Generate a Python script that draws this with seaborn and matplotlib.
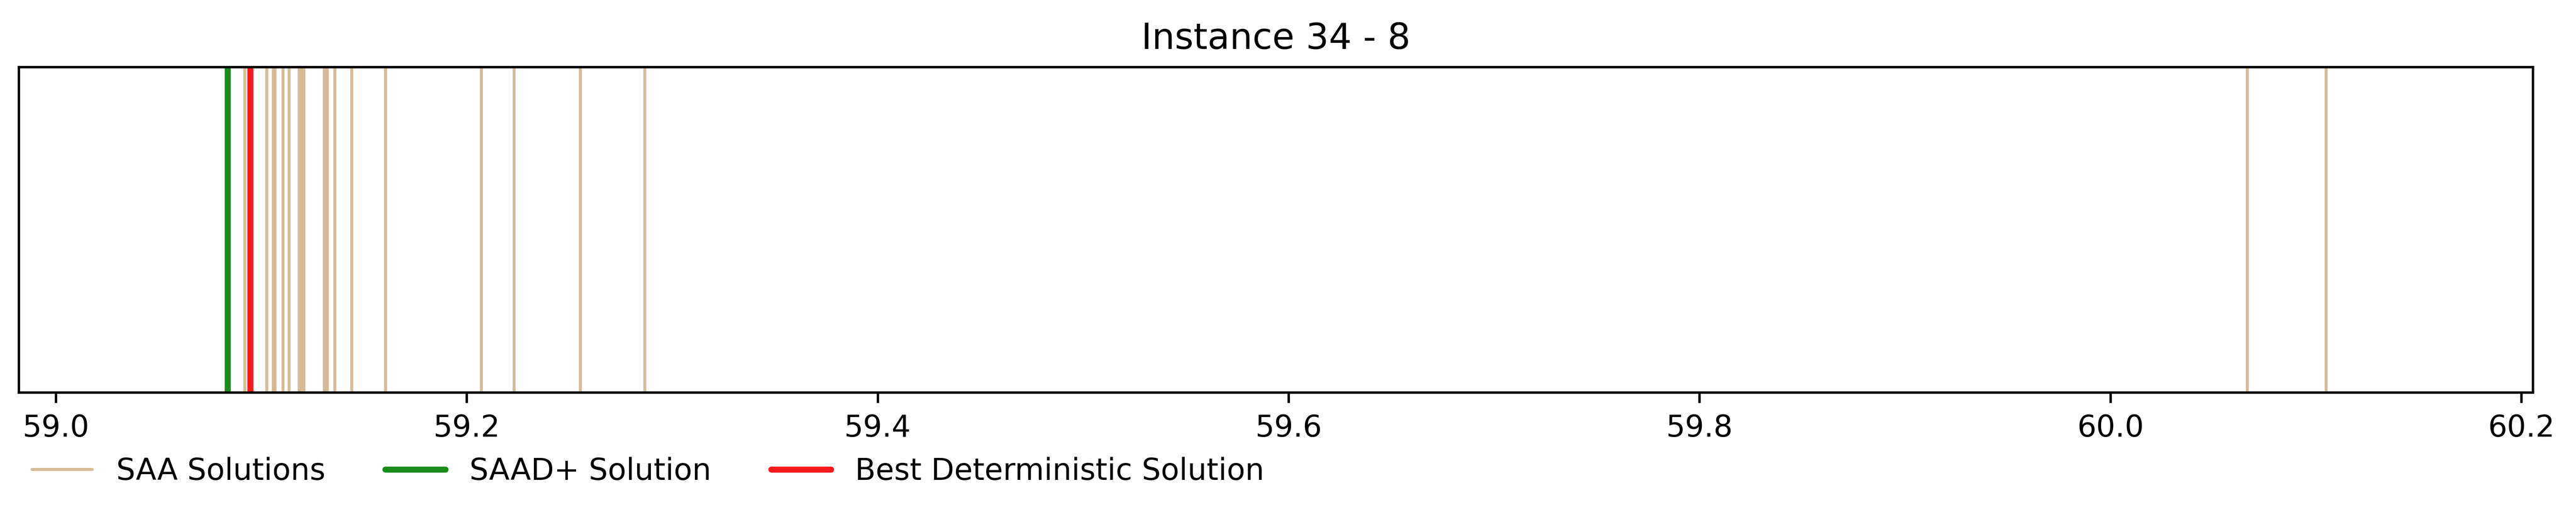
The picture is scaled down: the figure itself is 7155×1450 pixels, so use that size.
import numpy as np
import matplotlib
matplotlib.use('Agg')
import matplotlib.pyplot as plt
from matplotlib.lines import Line2D
import seaborn as sns

# Objective values
saa_solutions = [59.0920, 59.1027, 59.1058, 59.1067, 59.1105, 59.1135,
                 59.1184, 59.1196, 59.1208, 59.1308, 59.1322, 59.1358,
                 59.1441, 59.1606, 59.2072, 59.2231, 59.2553, 59.2867,
                 60.0667, 60.1051]
saad_plus_solution = [59.0836]
best_deterministic = [59.0946]
title = 'Instance 34 - 8'

sns.set_style('ticks')
plt.rcParams['font.family'] = ['DejaVu Sans']
plt.rcParams.update({'text.color': 'black', 'xtick.color': 'black',
                     'ytick.color': 'black', 'axes.labelcolor': 'black',
                     'axes.edgecolor': 'black'})

fig = plt.figure(figsize=(7155 / 600, 1450 / 600), dpi=600)
ax = fig.add_axes([0.0073, 0.248, 0.9759, 0.624])

sns.rugplot(x=saa_solutions, height=1, color='tan', alpha=0.9, linewidth=1, ax=ax, expand_margins=False)
sns.rugplot(x=saad_plus_solution, height=1, color='green', alpha=0.9, linewidth=2, ax=ax, expand_margins=False)
sns.rugplot(x=best_deterministic, height=1, color='red', alpha=0.9, linewidth=2, ax=ax, expand_margins=False)

ax.set_xlim(58.982, 60.2056)
ax.set_ylim(0, 1)
ax.set_yticks([])
ax.set_xticks(np.arange(59.0, 60.21, 0.2))
ax.set_title(title, fontsize=12, color='black')
for s in ax.spines.values():
    s.set_visible(True)
    s.set_color('black')
    s.set_linewidth(0.8)
ax.tick_params(axis='x', length=3.5, width=0.8, labelsize=10, color='black', labelcolor='black')

handles = [Line2D([], [], color='tan', alpha=0.9, lw=1),
           Line2D([], [], color='green', alpha=0.9, lw=2),
           Line2D([], [], color='red', alpha=0.9, lw=2)]
labels = ['SAA Solutions', 'SAAD+ Solution', 'Best Deterministic Solution']
fig.legend(handles, labels, loc='center left', bbox_to_anchor=(0.002, 0.0966),
           ncol=3, frameon=False, fontsize=10, labelcolor='black')

fig.savefig('out.png', dpi=600)
